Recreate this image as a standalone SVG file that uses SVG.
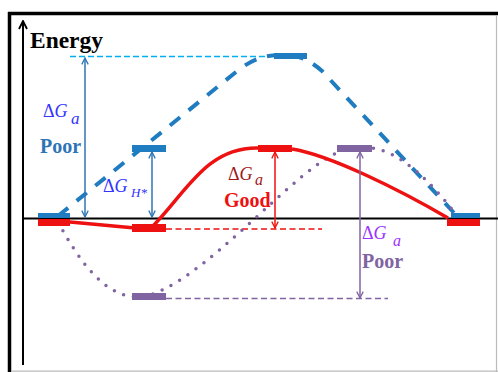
<svg xmlns="http://www.w3.org/2000/svg" width="498" height="372" viewBox="0 0 498 372">
<style>
text{font-family:"Liberation Serif","Times New Roman",serif}
.b{font-weight:bold}
.it{font-style:italic}
.arr{fill:none;stroke-width:1.5}
.lvl{stroke:none}
</style>
<defs>
<marker id="mb" viewBox="0 0 10 10" refX="9" refY="5" markerWidth="8" markerHeight="8" markerUnits="userSpaceOnUse" orient="auto-start-reverse"><path d="M1,1 L9,5 L1,9" fill="none" stroke="#2e75b6" stroke-width="1.6"/></marker>
<marker id="mr" viewBox="0 0 10 10" refX="9" refY="5" markerWidth="8" markerHeight="8" markerUnits="userSpaceOnUse" orient="auto-start-reverse"><path d="M1,1 L9,5 L1,9" fill="none" stroke="#ee1111" stroke-width="1.6"/></marker>
<marker id="mp" viewBox="0 0 10 10" refX="9" refY="5" markerWidth="8" markerHeight="8" markerUnits="userSpaceOnUse" orient="auto-start-reverse"><path d="M1,1 L9,5 L1,9" fill="none" stroke="#8064a2" stroke-width="1.6"/></marker>
<marker id="mk" viewBox="0 0 10 10" refX="9" refY="5" markerWidth="10" markerHeight="10" markerUnits="userSpaceOnUse" orient="auto"><path d="M1,1 L9,5 L1,9" fill="none" stroke="#000" stroke-width="1.8"/></marker>
</defs>
<rect x="0" y="0" width="498" height="372" fill="#fff"/>
<g id="frame">
<line x1="8" y1="13.5" x2="498" y2="13.5" stroke="#000" stroke-width="3.5"/>
<line x1="9.5" y1="12" x2="9.5" y2="372" stroke="#000" stroke-width="3.5"/>
<line x1="496.5" y1="15" x2="496.5" y2="372" stroke="#bbb" stroke-width="1.2"/>
<line x1="11" y1="371.2" x2="498" y2="371.2" stroke="#bbb" stroke-width="1.2"/>
</g>
<g id="axes">
<line x1="23" y1="365" x2="23" y2="21" stroke="#000" stroke-width="2" marker-end="url(#mk)"/>
<line x1="23" y1="218.5" x2="498" y2="218.5" stroke="#000" stroke-width="2"/>
<text x="30" y="48" class="b" font-size="23" textLength="73" lengthAdjust="spacingAndGlyphs" fill="#000">Energy</text>
</g>
<g id="connectors">
<line x1="70" y1="56.5" x2="275" y2="56.5" stroke="#00b0f0" stroke-width="1.5" stroke-dasharray="6 3"/>
<line x1="166" y1="229" x2="322" y2="229" stroke="#ee1111" stroke-width="1.5" stroke-dasharray="6 3.5"/>
<line x1="166" y1="298.5" x2="388" y2="298.5" stroke="#8064a2" stroke-width="1.5" stroke-dasharray="6 3.5"/>
<path d="M58 216 L236 72 C256 56 268 55 285 55 C300 55 312 62 322 71 L456 215" fill="none" stroke="#1f7cc0" stroke-width="4" stroke-dasharray="13 11"/>
<path d="M58 222 C80 262 105 298 140 297 C200 290 300 160 345 150 L372 148 C400 152 430 180 458 217" fill="none" stroke="#8064a2" stroke-width="3.5" stroke-linecap="round" stroke-dasharray="0 10"/>
<path d="M70 222 L135 228 M150 229 C185 195 205 147 258 148 M292 149 C330 155 400 190 448 218" fill="none" stroke="#ee1111" stroke-width="3.5"/>
<line class="arr" x1="85" y1="58" x2="85" y2="217" stroke="#2e75b6" marker-start="url(#mb)" marker-end="url(#mb)"/>
<line class="arr" x1="152" y1="152" x2="152" y2="217" stroke="#2e75b6" marker-start="url(#mb)" marker-end="url(#mb)"/>
<line class="arr" x1="275" y1="152" x2="275" y2="228" stroke="#ee1111" marker-start="url(#mr)" marker-end="url(#mr)"/>
<line class="arr" x1="360" y1="152" x2="360" y2="298" stroke="#8064a2" marker-start="url(#mp)" marker-end="url(#mp)"/>
</g>
<g id="initial-state">
<rect class="lvl" x="38" y="213" width="32" height="5" fill="#1f7cc0"/>
<rect class="lvl" x="38" y="219" width="32" height="7" fill="#ee1111"/>
</g>
<g id="final-state">
<rect class="lvl" x="451" y="213" width="29" height="5" fill="#1f7cc0"/>
<rect class="lvl" x="447" y="219" width="33" height="7" fill="#ee1111"/>
</g>
<g id="blue-top"><rect class="lvl" x="274" y="53" width="33" height="6" fill="#1f7cc0"/></g>
<g id="blue-H"><rect class="lvl" x="132" y="145" width="34" height="7" fill="#1f7cc0"/></g>
<g id="red-H"><rect class="lvl" x="132" y="224" width="34" height="8" fill="#ee1111"/></g>
<g id="red-top"><rect class="lvl" x="258" y="145" width="34" height="7" fill="#ee1111"/></g>
<g id="purple-top"><rect class="lvl" x="337" y="145" width="35" height="7" fill="#8064a2"/></g>
<g id="purple-H"><rect class="lvl" x="132" y="293" width="34" height="7" fill="#8064a2"/></g>
<g id="label-blue-a">
<text x="43" y="117" font-size="18" fill="#3333ff">Δ<tspan class="it">G</tspan><tspan class="it" x="71" y="124" font-size="17">a</tspan></text>
<text x="40" y="153" class="b" font-size="20" fill="#2e75b6">Poor</text>
</g>
<g id="label-blue-H">
<text x="103" y="192" font-size="18" fill="#3333ff">Δ<tspan class="it">G</tspan><tspan class="it" x="131" y="197" font-size="13">H*</tspan></text>
</g>
<g id="label-red">
<text x="228" y="180" font-size="18" fill="#a01818">Δ<tspan class="it">G</tspan><tspan class="it" x="255" y="185" font-size="16">a</tspan></text>
<text x="224" y="207" class="b" font-size="20" fill="#ee1111">Good</text>
</g>
<g id="label-purple">
<text x="362" y="239" font-size="18" fill="#9933ff">Δ<tspan class="it">G</tspan><tspan class="it" x="393" y="246" font-size="16">a</tspan></text>
<text x="362" y="268" class="b" font-size="20" fill="#8064a2">Poor</text>
</g>
</svg>
